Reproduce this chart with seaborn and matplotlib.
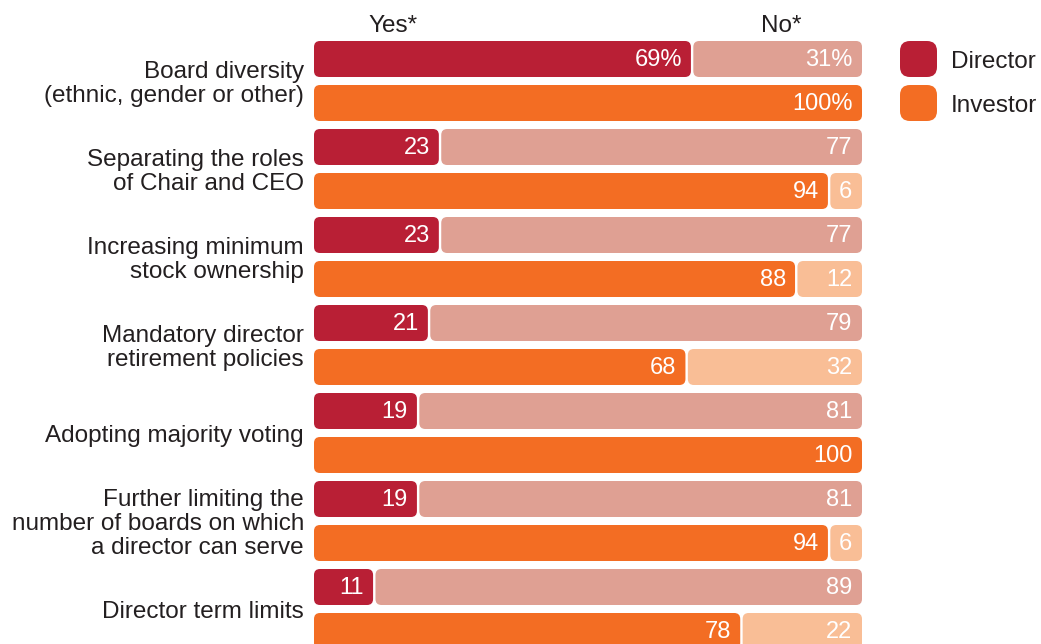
import numpy as np
import pandas as pd
import matplotlib
matplotlib.use("Agg")
import matplotlib.pyplot as plt
import seaborn as sns
from matplotlib.patches import FancyBboxPatch

categories = [
    "Board diversity\n(ethnic, gender or other)",
    "Separating the roles\nof Chair and CEO",
    "Increasing minimum\nstock ownership",
    "Mandatory director\nretirement policies",
    "Adopting majority voting",
    "Further limiting the\nnumber of boards on which\na director can serve",
    "Director term limits",
]
groups = ["Director", "Investor"]
director_yes = [69, 23, 23, 21, 19, 19, 11]
director_no = [31, 77, 77, 79, 81, 81, 89]
investor_yes = [100, 94, 88, 68, 100, 94, 78]
investor_no = [0, 6, 12, 32, 0, 6, 22]
headers = ["Yes*", "No*"]

yes_colors = {"Director": "#B91F35", "Investor": "#F36D23"}
no_colors = {"Director": "#DFA093", "Investor": "#F9BE96"}
text_color = "#231F20"

rows = []
for i, cat in enumerate(categories):
    rows.append(dict(row=f"{i}-D", cat=cat, group="Director", yes=director_yes[i], no=director_no[i]))
    rows.append(dict(row=f"{i}-I", cat=cat, group="Investor", yes=investor_yes[i], no=investor_no[i]))
df = pd.DataFrame(rows)

sns.set_theme(style="white")
plt.rcParams["font.family"] = ["Liberation Sans", "DejaVu Sans"]

W, H = 1041, 644
fig = plt.figure(figsize=(W / 100, H / 100), dpi=100)
pitch = 44.0            # px per row
xscale = 548 / 100.0    # px per percent
ax = fig.add_axes([314 / W, 0, 548 / W, 1])

bar_h = 36 / pitch
sns.barplot(data=df, x="yes", y="row", orient="h", width=bar_h, color="#999999", ax=ax, errorbar=None)
sns.barplot(data=df, x="no", y="row", orient="h", width=bar_h, color="#cccccc", ax=ax, errorbar=None)

ax.set_xlim(0, 100)
top = -59 / pitch
ax.set_ylim(top + H / pitch, top)
ax.axis("off")

gap = 1.2 / xscale
r = 6.0 / xscale
asp = (6.0 / pitch) / r
fs_val = 17
fs_txt = 17.5
dy_val = 1.5 / pitch
dy_txt = 3.0 / pitch

def rounded(x, y, w, h, color):
    p = FancyBboxPatch((x, y), w, h, boxstyle=f"round,pad=0,rounding_size={r}",
                       mutation_aspect=asp, fc=color, ec="none", clip_on=False)
    ax.add_patch(p)

yes_patches = list(ax.containers[0])
no_patches = list(ax.containers[1])
for k, rec in df.iterrows():
    py = yes_patches[k]
    y, h = py.get_y(), py.get_height()
    yv, nv = rec["yes"], rec["no"]
    py.remove()
    no_patches[k].remove()
    yes_end = yv - gap if nv > 0 else yv
    rounded(0, y, yes_end, h, yes_colors[rec["group"]])
    pct = "%" if k < 2 else ""
    ax.text(yes_end - 9 / xscale, y + h / 2 + dy_val, f"{yv}{pct}", ha="right", va="center",
            color="white", fontsize=fs_val)
    if nv > 0:
        rounded(yv + gap, y, nv - gap, h, no_colors[rec["group"]])
        ax.text(100 - 10 / xscale, y + h / 2 + dy_val, f"{nv}{pct}", ha="right", va="center",
                color="white", fontsize=fs_val)

# category labels
for i, cat in enumerate(categories):
    ax.text(-10 / xscale, 2 * i + 0.5 + dy_txt, cat, ha="right", va="center", color=text_color,
            fontsize=fs_txt, linespacing=1.13, clip_on=False)

# headers
ax.text((393 - 314) / xscale, (26 - 59) / pitch, headers[0], ha="center", va="center",
        color=text_color, fontsize=fs_txt, clip_on=False)
ax.text((781 - 314) / xscale, (26 - 59) / pitch, headers[1], ha="center", va="center",
        color=text_color, fontsize=fs_txt, clip_on=False)

# legend
for j, g in enumerate(groups):
    yy = j - bar_h / 2
    p = FancyBboxPatch(((900 - 314) / xscale, yy), 37 / xscale, bar_h,
                       boxstyle=f"round,pad=0,rounding_size={10 / xscale}",
                       mutation_aspect=(10 / pitch) / (10 / xscale), fc=yes_colors[g], ec="none", clip_on=False)
    ax.add_patch(p)
    ax.text((951 - 314) / xscale, j + dy_txt, g, ha="left", va="center", color=text_color,
            fontsize=fs_txt, clip_on=False)

fig.savefig("out.png", dpi=100)
